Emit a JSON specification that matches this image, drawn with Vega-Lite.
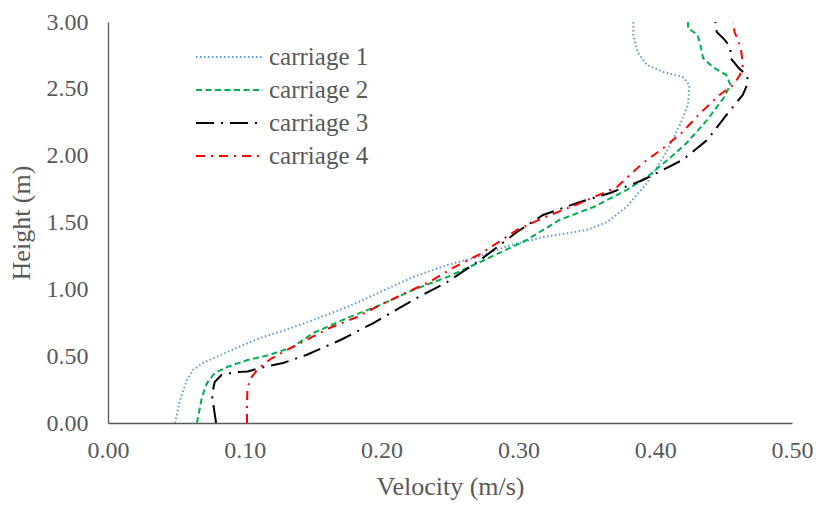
{
  "$schema": "https://vega.github.io/schema/vega-lite/v6.json",
  "width": 684,
  "height": 401,
  "autosize": {"type": "none"},
  "padding": {"left": 108, "top": 22, "right": 30, "bottom": 82},
  "background": "white",
  "config": {
    "view": {"stroke": null},
    "font": "Liberation Serif"
  },
  "data": {
    "values": [
      {"c": "carriage 1", "v": 0.049, "h": 0},
      {"c": "carriage 1", "v": 0.0526, "h": 0.172},
      {"c": "carriage 1", "v": 0.0577, "h": 0.322},
      {"c": "carriage 1", "v": 0.0621, "h": 0.397},
      {"c": "carriage 1", "v": 0.0694, "h": 0.449},
      {"c": "carriage 1", "v": 0.087, "h": 0.531},
      {"c": "carriage 1", "v": 0.111, "h": 0.636},
      {"c": "carriage 1", "v": 0.128, "h": 0.69},
      {"c": "carriage 1", "v": 0.15, "h": 0.771},
      {"c": "carriage 1", "v": 0.175, "h": 0.868},
      {"c": "carriage 1", "v": 0.199, "h": 0.98},
      {"c": "carriage 1", "v": 0.223, "h": 1.092},
      {"c": "carriage 1", "v": 0.248, "h": 1.182},
      {"c": "carriage 1", "v": 0.27, "h": 1.242},
      {"c": "carriage 1", "v": 0.294, "h": 1.33},
      {"c": "carriage 1", "v": 0.318, "h": 1.39},
      {"c": "carriage 1", "v": 0.35, "h": 1.444},
      {"c": "carriage 1", "v": 0.365, "h": 1.504},
      {"c": "carriage 1", "v": 0.379, "h": 1.616},
      {"c": "carriage 1", "v": 0.394, "h": 1.795},
      {"c": "carriage 1", "v": 0.409, "h": 2.042},
      {"c": "carriage 1", "v": 0.418, "h": 2.229},
      {"c": "carriage 1", "v": 0.424, "h": 2.379},
      {"c": "carriage 1", "v": 0.425, "h": 2.529},
      {"c": "carriage 1", "v": 0.42, "h": 2.589},
      {"c": "carriage 1", "v": 0.406, "h": 2.626},
      {"c": "carriage 1", "v": 0.394, "h": 2.678},
      {"c": "carriage 1", "v": 0.387, "h": 2.776},
      {"c": "carriage 1", "v": 0.384, "h": 2.903},
      {"c": "carriage 1", "v": 0.384, "h": 3.0},

      {"c": "carriage 2", "v": 0.065, "h": 0},
      {"c": "carriage 2", "v": 0.0687, "h": 0.195},
      {"c": "carriage 2", "v": 0.0724, "h": 0.299},
      {"c": "carriage 2", "v": 0.078, "h": 0.374},
      {"c": "carriage 2", "v": 0.087, "h": 0.419},
      {"c": "carriage 2", "v": 0.102, "h": 0.471},
      {"c": "carriage 2", "v": 0.118, "h": 0.509},
      {"c": "carriage 2", "v": 0.135, "h": 0.569},
      {"c": "carriage 2", "v": 0.15, "h": 0.673},
      {"c": "carriage 2", "v": 0.175, "h": 0.786},
      {"c": "carriage 2", "v": 0.199, "h": 0.883},
      {"c": "carriage 2", "v": 0.223, "h": 0.995},
      {"c": "carriage 2", "v": 0.248, "h": 1.092},
      {"c": "carriage 2", "v": 0.272, "h": 1.204},
      {"c": "carriage 2", "v": 0.306, "h": 1.369},
      {"c": "carriage 2", "v": 0.33, "h": 1.519},
      {"c": "carriage 2", "v": 0.355, "h": 1.616},
      {"c": "carriage 2", "v": 0.379, "h": 1.743},
      {"c": "carriage 2", "v": 0.394, "h": 1.84},
      {"c": "carriage 2", "v": 0.409, "h": 1.968},
      {"c": "carriage 2", "v": 0.423, "h": 2.095},
      {"c": "carriage 2", "v": 0.438, "h": 2.267},
      {"c": "carriage 2", "v": 0.45, "h": 2.431},
      {"c": "carriage 2", "v": 0.455, "h": 2.529},
      {"c": "carriage 2", "v": 0.452, "h": 2.603},
      {"c": "carriage 2", "v": 0.442, "h": 2.663},
      {"c": "carriage 2", "v": 0.435, "h": 2.731},
      {"c": "carriage 2", "v": 0.433, "h": 2.828},
      {"c": "carriage 2", "v": 0.431, "h": 2.903},
      {"c": "carriage 2", "v": 0.424, "h": 2.955},
      {"c": "carriage 2", "v": 0.424, "h": 3.0},

      {"c": "carriage 3", "v": 0.079, "h": 0},
      {"c": "carriage 3", "v": 0.0768, "h": 0.15},
      {"c": "carriage 3", "v": 0.076, "h": 0.209},
      {"c": "carriage 3", "v": 0.078, "h": 0.307},
      {"c": "carriage 3", "v": 0.083, "h": 0.359},
      {"c": "carriage 3", "v": 0.093, "h": 0.38},
      {"c": "carriage 3", "v": 0.102, "h": 0.385},
      {"c": "carriage 3", "v": 0.111, "h": 0.411},
      {"c": "carriage 3", "v": 0.128, "h": 0.449},
      {"c": "carriage 3", "v": 0.145, "h": 0.509},
      {"c": "carriage 3", "v": 0.17, "h": 0.621},
      {"c": "carriage 3", "v": 0.194, "h": 0.748},
      {"c": "carriage 3", "v": 0.223, "h": 0.92},
      {"c": "carriage 3", "v": 0.248, "h": 1.055},
      {"c": "carriage 3", "v": 0.272, "h": 1.219},
      {"c": "carriage 3", "v": 0.299, "h": 1.429},
      {"c": "carriage 3", "v": 0.318, "h": 1.556},
      {"c": "carriage 3", "v": 0.343, "h": 1.646},
      {"c": "carriage 3", "v": 0.367, "h": 1.721},
      {"c": "carriage 3", "v": 0.391, "h": 1.818},
      {"c": "carriage 3", "v": 0.42, "h": 1.968},
      {"c": "carriage 3", "v": 0.438, "h": 2.117},
      {"c": "carriage 3", "v": 0.452, "h": 2.304},
      {"c": "carriage 3", "v": 0.464, "h": 2.454},
      {"c": "carriage 3", "v": 0.468, "h": 2.551},
      {"c": "carriage 3", "v": 0.467, "h": 2.603},
      {"c": "carriage 3", "v": 0.461, "h": 2.656},
      {"c": "carriage 3", "v": 0.455, "h": 2.731},
      {"c": "carriage 3", "v": 0.455, "h": 2.805},
      {"c": "carriage 3", "v": 0.451, "h": 2.865},
      {"c": "carriage 3", "v": 0.445, "h": 2.925},
      {"c": "carriage 3", "v": 0.444, "h": 3.0},

      {"c": "carriage 4", "v": 0.1016, "h": 0},
      {"c": "carriage 4", "v": 0.1016, "h": 0.15},
      {"c": "carriage 4", "v": 0.102, "h": 0.269},
      {"c": "carriage 4", "v": 0.105, "h": 0.344},
      {"c": "carriage 4", "v": 0.109, "h": 0.397},
      {"c": "carriage 4", "v": 0.113, "h": 0.434},
      {"c": "carriage 4", "v": 0.12, "h": 0.486},
      {"c": "carriage 4", "v": 0.128, "h": 0.531},
      {"c": "carriage 4", "v": 0.145, "h": 0.621},
      {"c": "carriage 4", "v": 0.162, "h": 0.711},
      {"c": "carriage 4", "v": 0.182, "h": 0.793},
      {"c": "carriage 4", "v": 0.199, "h": 0.883},
      {"c": "carriage 4", "v": 0.219, "h": 0.98},
      {"c": "carriage 4", "v": 0.235, "h": 1.055},
      {"c": "carriage 4", "v": 0.252, "h": 1.16},
      {"c": "carriage 4", "v": 0.272, "h": 1.264},
      {"c": "carriage 4", "v": 0.299, "h": 1.444},
      {"c": "carriage 4", "v": 0.318, "h": 1.534},
      {"c": "carriage 4", "v": 0.347, "h": 1.653},
      {"c": "carriage 4", "v": 0.372, "h": 1.766},
      {"c": "carriage 4", "v": 0.391, "h": 1.945},
      {"c": "carriage 4", "v": 0.406, "h": 2.057},
      {"c": "carriage 4", "v": 0.42, "h": 2.177},
      {"c": "carriage 4", "v": 0.433, "h": 2.319},
      {"c": "carriage 4", "v": 0.447, "h": 2.454},
      {"c": "carriage 4", "v": 0.457, "h": 2.529},
      {"c": "carriage 4", "v": 0.462, "h": 2.603},
      {"c": "carriage 4", "v": 0.464, "h": 2.678},
      {"c": "carriage 4", "v": 0.463, "h": 2.776},
      {"c": "carriage 4", "v": 0.461, "h": 2.85},
      {"c": "carriage 4", "v": 0.458, "h": 2.925},
      {"c": "carriage 4", "v": 0.457, "h": 3.0}
    ]
  },
  "mark": {"type": "line", "strokeWidth": 2, "clip": true},
  "encoding": {
    "x": {
      "field": "v",
      "type": "quantitative",
      "scale": {"domain": [0, 0.5], "nice": false, "zero": false},
      "axis": {
        "title": "Velocity (m/s)",
        "values": [0, 0.1, 0.2, 0.3, 0.4, 0.5],
        "format": ".2f",
        "grid": false,
        "ticks": false,
        "domainColor": "#595959",
        "domainWidth": 1.3,
        "labelFont": "Liberation Serif",
        "labelFontSize": 24,
        "labelColor": "#595959",
        "labelPadding": 15,
        "labelFlush": false,
        "titleFont": "Liberation Serif",
        "titleFontSize": 26,
        "titleFontWeight": "normal",
        "titleColor": "#595959",
        "titlePadding": 11
      }
    },
    "y": {
      "field": "h",
      "type": "quantitative",
      "scale": {"domain": [0, 3], "nice": false, "zero": false},
      "axis": {
        "title": "Height (m)",
        "values": [0, 0.5, 1, 1.5, 2, 2.5, 3],
        "format": ".2f",
        "grid": false,
        "ticks": false,
        "domainColor": "#595959",
        "domainWidth": 1.3,
        "labelFont": "Liberation Serif",
        "labelFontSize": 24,
        "labelColor": "#595959",
        "labelPadding": 20,
        "labelFlush": false,
        "titleFont": "Liberation Serif",
        "titleFontSize": 26,
        "titleFontWeight": "normal",
        "titleColor": "#595959",
        "titlePadding": 12
      }
    },
    "order": {"field": "h", "type": "quantitative"},
    "color": {
      "field": "c",
      "type": "nominal",
      "scale": {
        "domain": ["carriage 1", "carriage 2", "carriage 3", "carriage 4"],
        "range": ["#5B9BD5", "#00B050", "#000000", "#FF0000"]
      },
      "legend": {
        "title": null,
        "orient": "none",
        "legendX": 87,
        "legendY": 23,
        "symbolType": "stroke",
        "symbolSize": 4489,
        "symbolStrokeWidth": 2,
        "clipHeight": 24,
        "rowPadding": 8,
        "labelOffset": 5,
        "labelFont": "Liberation Serif",
        "labelFontSize": 25,
        "labelColor": "#595959"
      }
    },
    "strokeDash": {
      "field": "c",
      "type": "nominal",
      "scale": {
        "domain": ["carriage 1", "carriage 2", "carriage 3", "carriage 4"],
        "range": [[1.5, 2.5], [6, 3.5], [18, 7, 2, 7], [9, 6, 2, 6]]
      },
      "legend": null
    }
  }
}
